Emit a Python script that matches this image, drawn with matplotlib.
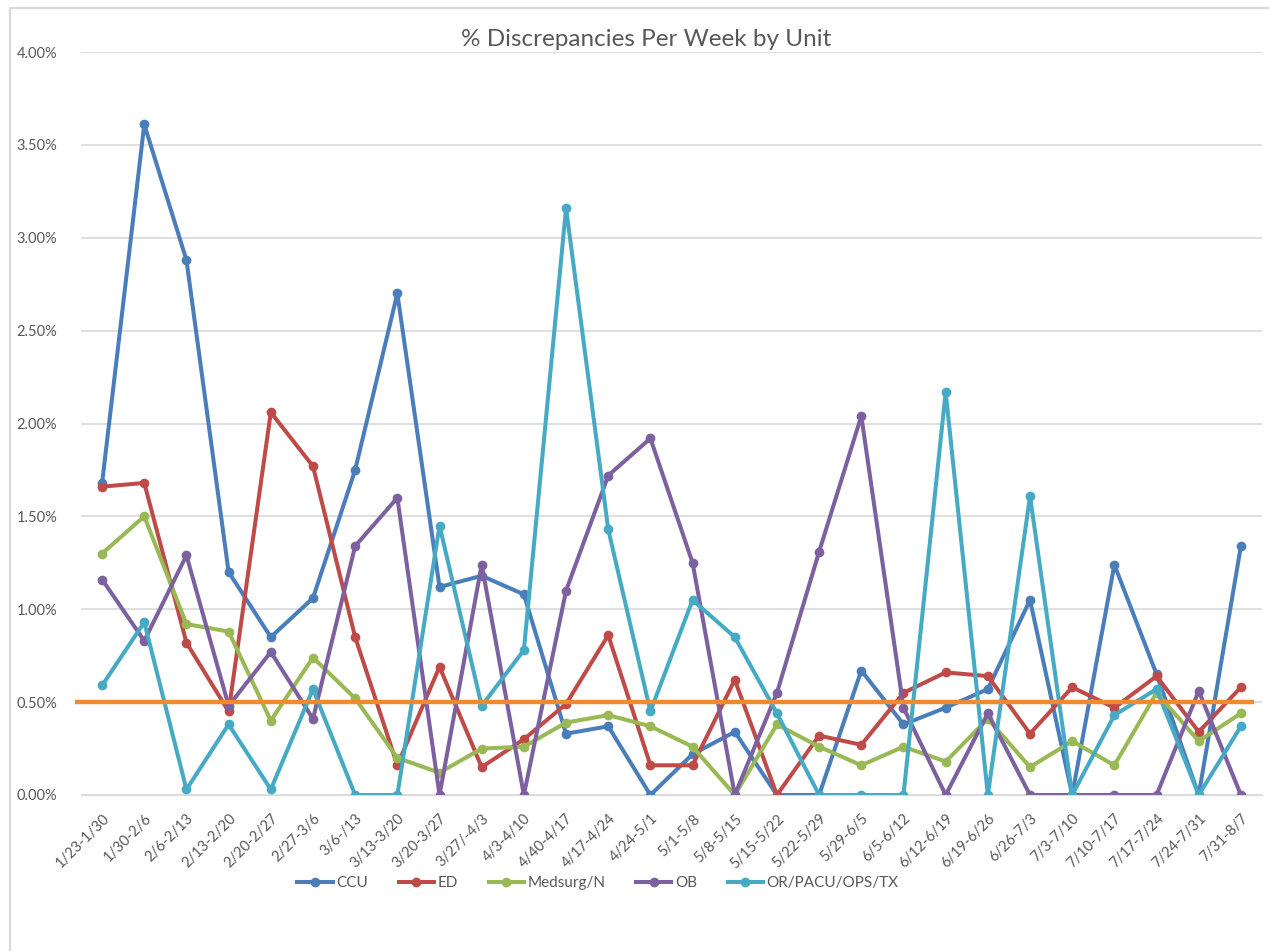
import matplotlib
matplotlib.use("Agg")
import matplotlib.pyplot as plt
from matplotlib.patches import Rectangle
from matplotlib.ticker import FuncFormatter, MultipleLocator

weeks = ["1/23-1/30", "1/30-2/6", "2/6-2/13", "2/13-2/20", "2/20-2/27", "2/27-3/6",
         "3/6-/13", "3/13-3/20", "3/20-3/27", "3/27/-4/3", "4/3-4/10", "4/40-4/17",
         "4/17-4/24", "4/24-5/1", "5/1-5/8", "5/8-5/15", "5/15-5/22", "5/22-5/29",
         "5/29-6/5", "6/5-6/12", "6/12-6/19", "6/19-6/26", "6/26-7/3", "7/3-7/10",
         "7/10-7/17", "7/17-7/24", "7/24-7/31", "7/31-8/7"]

ccu = [1.68, 3.61, 2.88, 1.20, 0.85, 1.06, 1.75, 2.70, 1.12, 1.18, 1.08, 0.33, 0.37, 0.00,
       0.22, 0.34, 0.00, 0.00, 0.67, 0.38, 0.47, 0.57, 1.05, 0.00, 1.24, 0.65, 0.00, 1.34]
ed = [1.66, 1.68, 0.82, 0.45, 2.06, 1.77, 0.85, 0.16, 0.69, 0.15, 0.30, 0.49, 0.86, 0.16,
      0.16, 0.62, 0.00, 0.32, 0.27, 0.55, 0.66, 0.64, 0.33, 0.58, 0.47, 0.64, 0.34, 0.58]
medsurg = [1.30, 1.50, 0.92, 0.88, 0.40, 0.74, 0.52, 0.20, 0.12, 0.25, 0.26, 0.39, 0.43, 0.37,
           0.26, 0.00, 0.38, 0.26, 0.16, 0.26, 0.18, 0.41, 0.15, 0.29, 0.16, 0.55, 0.29, 0.44]
ob = [1.16, 0.83, 1.29, 0.48, 0.77, 0.41, 1.34, 1.60, 0.00, 1.24, 0.00, 1.10, 1.72, 1.92,
      1.25, 0.00, 0.55, 1.31, 2.04, 0.47, 0.00, 0.44, 0.00, 0.00, 0.00, 0.00, 0.56, 0.00]
or_pacu = [0.59, 0.93, 0.03, 0.38, 0.03, 0.57, 0.00, 0.00, 1.45, 0.48, 0.78, 3.16, 1.43, 0.45,
           1.05, 0.85, 0.44, 0.00, 0.00, 0.00, 2.17, 0.00, 1.61, 0.00, 0.43, 0.57, 0.00, 0.37]

series_names = ["CCU", "ED", "Medsurg/N", "OB", "OR/PACU/OPS/TX"]
series_colors = ["#4A7EBB", "#BE4B48", "#98B954", "#7D60A0", "#46AAC5"]
target = 0.50

plt.rcParams["font.family"] = ["Lato", "DejaVu Sans"]
text_color = "#595959"

fig = plt.figure(figsize=(12.69, 9.51), dpi=100)
fig.patches.append(Rectangle((0.008, -0.01), 1.2, 1.0015, transform=fig.transFigure,
                             fill=False, edgecolor="#D9D9D9", linewidth=1.5))

ax = fig.add_axes([81 / 1269, 1 - 795 / 951, (1262 - 81) / 1269, (795 - 52) / 951])

x = list(range(len(weeks)))
for vals, name, col in zip([ccu, ed, medsurg, ob, or_pacu], series_names, series_colors):
    ax.plot(x, vals, color=col, linewidth=2.9, marker="o", markersize=7,
            markeredgewidth=0, label=name, solid_joinstyle="round")

# 0.5% target line drawn over the series
ax.plot([-0.65, 27.3], [target, target], color="#F08A2E", linewidth=3.2, zorder=10,
        solid_capstyle="butt", clip_on=False)

ax.set_xlim(-0.5, len(weeks) - 0.5)
ax.set_ylim(0, 4.0)
ax.yaxis.set_major_locator(MultipleLocator(0.5))
ax.yaxis.set_major_formatter(FuncFormatter(lambda v, p: f"{v:.2f}%"))
ax.grid(axis="y", color="#D9D9D9", linewidth=1.2)
ax.set_axisbelow(True)
for s in ax.spines.values():
    s.set_visible(False)
ax.spines["bottom"].set_visible(True)
ax.spines["bottom"].set_color("#D9D9D9")
ax.tick_params(axis="both", length=0, colors=text_color, labelsize=10.5)
ax.tick_params(axis="y", pad=17)
ax.set_xticks(x)
ax.set_xticklabels(weeks, rotation=45, ha="right", rotation_mode="anchor")
ax.tick_params(axis="x", pad=12)

fig.text(646 / 1269, 1 - 40 / 951, "% Discrepancies Per Week by Unit", fontsize=17.5,
         color=text_color, ha="center", va="center")

ax.legend(loc="center", bbox_to_anchor=(598 / 1269, 1 - 883 / 951),
          bbox_transform=fig.transFigure, ncol=5, frameon=False,
          fontsize=11, labelcolor=text_color, handlelength=2.3, columnspacing=2.0,
          handletextpad=0.25)

fig.savefig("out.png", dpi=100, facecolor="white")
